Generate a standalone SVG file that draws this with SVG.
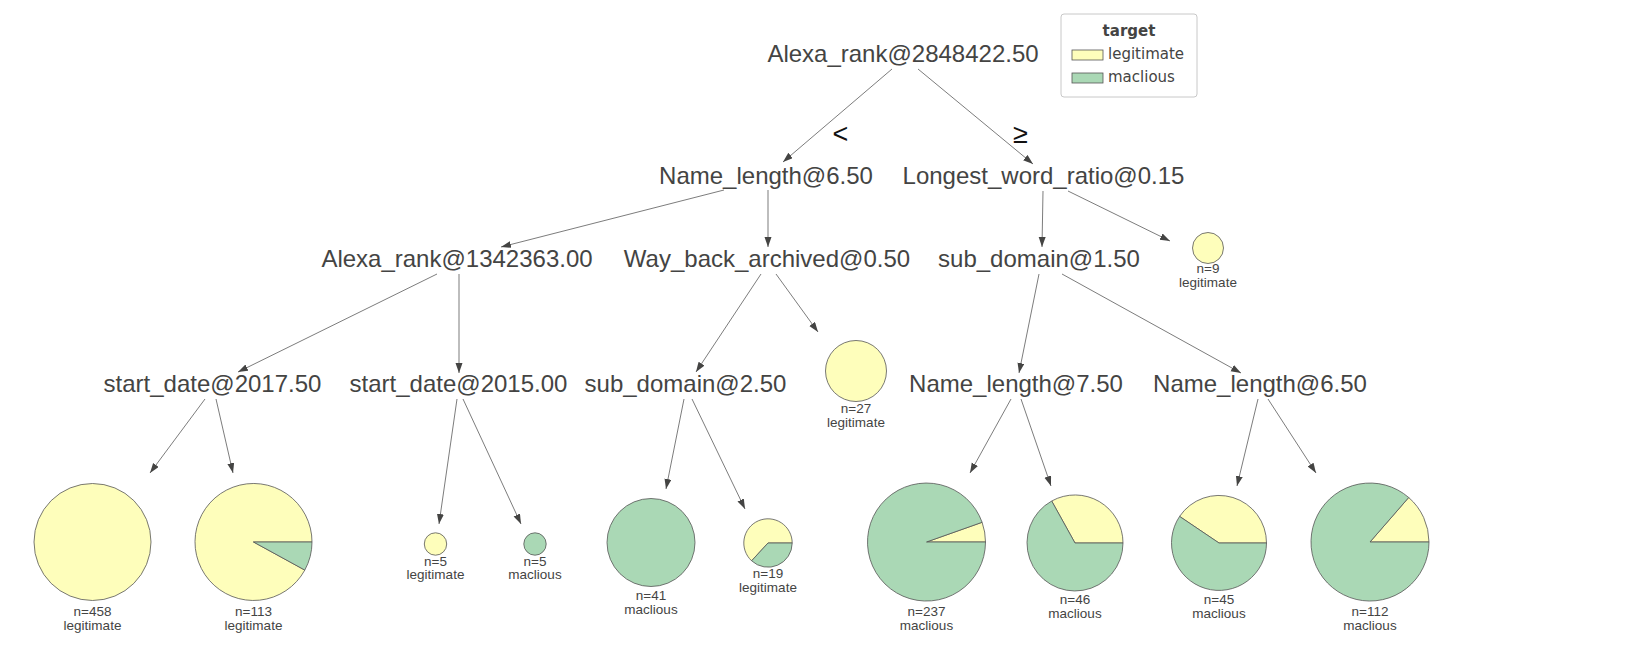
<svg xmlns="http://www.w3.org/2000/svg" width="1652" height="666" viewBox="0 0 1652 666">
<defs>
<marker id="ah" markerUnits="userSpaceOnUse" markerWidth="11" markerHeight="8" refX="10" refY="3.5" orient="auto">
<path d="M0,0 L10,3.5 L0,7 z" fill="#444443"/>
</marker>
</defs>
<style>
.lbl{font-family:"Liberation Sans",Arial,sans-serif;font-size:24px;fill:#444443;text-anchor:middle}
.lf{font-family:"Liberation Sans",Arial,sans-serif;font-size:13.5px;fill:#444443;text-anchor:middle}
.op{font-family:"Liberation Sans",Arial,sans-serif;font-size:27px;fill:#111;text-anchor:middle}
.lg{font-family:"DejaVu Sans",sans-serif;font-size:15px;fill:#444443}
.e{stroke:#444443;stroke-width:0.7;fill:none;marker-end:url(#ah)}
.y{fill:#fefebb;stroke:#555;stroke-width:0.8}
.g{fill:#aad8b5;stroke:#555;stroke-width:0.8}
</style>
<rect width="1652" height="666" fill="#ffffff"/>

<g id="legend">
<rect x="1061" y="14" width="136" height="83" rx="3" fill="#fff" stroke="#c8c8c8" stroke-width="1"/>
<text x="1129" y="36" class="lg" style="font-weight:bold" text-anchor="middle">target</text>
<rect x="1072" y="50" width="31" height="10" class="y"/>
<text x="1108" y="59" class="lg">legitimate</text>
<rect x="1072" y="73" width="31" height="10" class="g"/>
<text x="1108" y="82" class="lg">maclious</text>
</g>

<g id="connectors">
<line class="e" x1="892" y1="69" x2="783" y2="162"/>
<line class="e" x1="918" y1="69" x2="1033" y2="164"/>
<line class="e" x1="724" y1="190" x2="501" y2="247"/>
<line class="e" x1="768" y1="190" x2="768" y2="247"/>
<line class="e" x1="1043" y1="191" x2="1042" y2="247"/>
<line class="e" x1="1068" y1="191" x2="1170" y2="241"/>
<line class="e" x1="437" y1="274" x2="238" y2="372"/>
<line class="e" x1="459" y1="274" x2="459" y2="373"/>
<line class="e" x1="761" y1="274" x2="696" y2="372"/>
<line class="e" x1="776" y1="274" x2="818" y2="332"/>
<line class="e" x1="1039" y1="274" x2="1019" y2="373"/>
<line class="e" x1="1062" y1="274" x2="1241" y2="373"/>
<line class="e" x1="205" y1="399" x2="150" y2="473"/>
<line class="e" x1="216" y1="399" x2="233" y2="473"/>
<line class="e" x1="457" y1="399" x2="439" y2="524"/>
<line class="e" x1="463" y1="399" x2="521" y2="524"/>
<line class="e" x1="684" y1="399" x2="666" y2="489"/>
<line class="e" x1="692" y1="399" x2="745" y2="509"/>
<line class="e" x1="1011" y1="399" x2="970" y2="473"/>
<line class="e" x1="1021" y1="399" x2="1051" y2="486"/>
<line class="e" x1="1258" y1="399" x2="1237" y2="486"/>
<line class="e" x1="1268" y1="399" x2="1316" y2="473"/>
<text x="840.5" y="143" class="op">&lt;</text>
<text x="1020.5" y="143" class="op">≥</text>
</g>

<g id="n0"><text x="903" y="62" class="lbl">Alexa_rank@2848422.50</text></g>
<g id="n1"><text x="766" y="184" class="lbl">Name_length@6.50</text></g>
<g id="n2"><text x="1043.5" y="184" class="lbl">Longest_word_ratio@0.15</text></g>
<g id="n3"><text x="457" y="267" class="lbl">Alexa_rank@1342363.00</text></g>
<g id="n4"><text x="767" y="267" class="lbl">Way_back_archived@0.50</text></g>
<g id="n5"><text x="1039" y="267" class="lbl">sub_domain@1.50</text></g>
<g id="n6"><text x="212.5" y="392" class="lbl">start_date@2017.50</text></g>
<g id="n7"><text x="458.5" y="392" class="lbl">start_date@2015.00</text></g>
<g id="n8"><text x="685.5" y="392" class="lbl">sub_domain@2.50</text></g>
<g id="n9"><text x="1016" y="392" class="lbl">Name_length@7.50</text></g>
<g id="n10"><text x="1260" y="392" class="lbl">Name_length@6.50</text></g>

<g id="leaf9">
<circle cx="1208" cy="248" r="15.5" class="y"/>
<text x="1208" y="273" class="lf">n=9</text>
<text x="1208" y="287" class="lf">legitimate</text>
</g>
<g id="leaf27">
<circle cx="856" cy="371" r="30.5" class="y"/>
<text x="856" y="413" class="lf">n=27</text>
<text x="856" y="427" class="lf">legitimate</text>
</g>
<g id="leaf458">
<circle cx="92.5" cy="542" r="58.5" class="y"/>
<text x="92.5" y="616" class="lf">n=458</text>
<text x="92.5" y="630" class="lf">legitimate</text>
</g>
<g id="leaf113">
<path d="M253.5,542 L312,542 A58.5,58.5 0 1 0 304.8,570.1 Z" class="y"/>
<path d="M253.5,542 L304.8,570.1 A58.5,58.5 0 0 0 312,542 Z" class="g"/>
<text x="253.5" y="616" class="lf">n=113</text>
<text x="253.5" y="630" class="lf">legitimate</text>
</g>
<g id="leaf5a">
<circle cx="435.5" cy="544" r="11.2" class="y"/>
<text x="435.5" y="566" class="lf">n=5</text>
<text x="435.5" y="579" class="lf">legitimate</text>
</g>
<g id="leaf5b">
<circle cx="535" cy="544" r="11.2" class="g"/>
<text x="535" y="566" class="lf">n=5</text>
<text x="535" y="579" class="lf">maclious</text>
</g>
<g id="leaf41">
<circle cx="651" cy="542.5" r="44" class="g"/>
<text x="651" y="600" class="lf">n=41</text>
<text x="651" y="614" class="lf">maclious</text>
</g>
<g id="leaf19">
<path d="M768,543 L792.2,543 A24.2,24.2 0 1 0 751.6,560.8 Z" class="y"/>
<path d="M768,543 L751.6,560.8 A24.2,24.2 0 0 0 792.2,543 Z" class="g"/>
<text x="768" y="578" class="lf">n=19</text>
<text x="768" y="592" class="lf">legitimate</text>
</g>
<g id="leaf237">
<path d="M926.5,542 L985.5,542 A59,59 0 0 0 982.1,522.3 Z" class="y"/>
<path d="M926.5,542 L982.1,522.3 A59,59 0 1 0 985.5,542 Z" class="g"/>
<text x="926.5" y="616" class="lf">n=237</text>
<text x="926.5" y="630" class="lf">maclious</text>
</g>
<g id="leaf46">
<path d="M1075,543 L1123,543 A48,48 0 0 0 1051.7,501.0 Z" class="y"/>
<path d="M1075,543 L1051.7,501.0 A48,48 0 1 0 1123,543 Z" class="g"/>
<text x="1075" y="604" class="lf">n=46</text>
<text x="1075" y="618" class="lf">maclious</text>
</g>
<g id="leaf45">
<path d="M1219,543 L1266.5,543 A47.5,47.5 0 0 0 1179.6,516.4 Z" class="y"/>
<path d="M1219,543 L1179.6,516.4 A47.5,47.5 0 1 0 1266.5,543 Z" class="g"/>
<text x="1219" y="604" class="lf">n=45</text>
<text x="1219" y="618" class="lf">maclious</text>
</g>
<g id="leaf112">
<path d="M1370,542 L1429,542 A59,59 0 0 0 1408.7,497.5 Z" class="y"/>
<path d="M1370,542 L1408.7,497.5 A59,59 0 1 0 1429,542 Z" class="g"/>
<text x="1370" y="616" class="lf">n=112</text>
<text x="1370" y="630" class="lf">maclious</text>
</g>
</svg>
